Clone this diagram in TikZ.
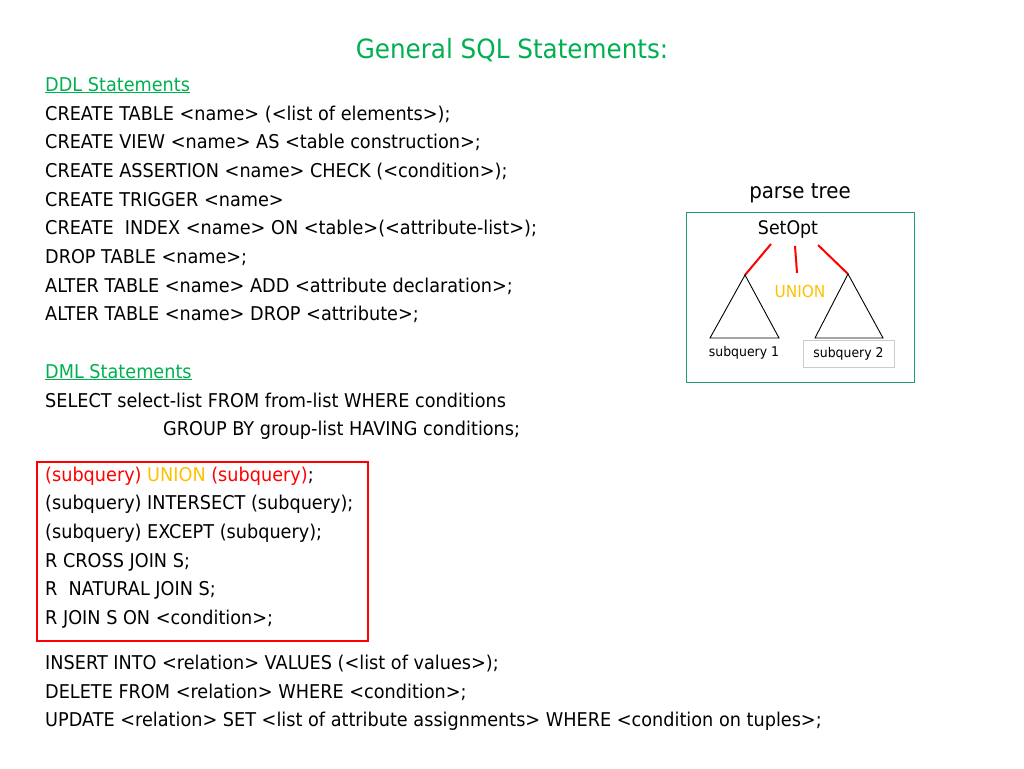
\documentclass[tikz,border=0pt]{standalone}
\usepackage{fontspec}
\setmainfont{DejaVu Sans}[FakeStretch=0.93]
\usetikzlibrary{positioning}
\definecolor{titlegreen}{RGB}{0,176,80}
\definecolor{unionorange}{RGB}{255,192,0}
\definecolor{treeframe}{RGB}{30,160,110}
\begin{document}
\begin{tikzpicture}[x=1pt, y=-1pt,
  every node/.style = {inner sep=0pt, anchor=base west},
  stmt/.style = {font=\fontsize{19}{22}\selectfont},
  heading/.style = {stmt, text=titlegreen},
  small/.style = {font=\fontsize{13.4}{15}\selectfont, anchor=center},
  branch/.style = {draw=red, line width=2pt}]
  \useasboundingbox (0,0) rectangle (1024,768);
  \node[font=\fontsize{26.5}{30}\selectfont, text=titlegreen, anchor=base] (title) at (512,59) {General SQL Statements:};
  % DDL
  \node[heading] (ddl) at (45,91) {\underline{DDL Statements}};
  \node[stmt] (ddl1) at (45,120) {CREATE TABLE <name> (<list of elements>);};
  \node[stmt] (ddl2) at (45,148.5) {CREATE VIEW <name> AS <table construction>;};
  \node[stmt] (ddl3) at (45,177) {CREATE ASSERTION <name> CHECK (<condition>);};
  \node[stmt] (ddl4) at (45,206) {CREATE TRIGGER <name>};
  \node[stmt] (ddl5) at (45,234.5) {CREATE\ \ INDEX <name> ON <table>(<attribute-list>);};
  \node[stmt] (ddl6) at (45,263) {DROP TABLE <name>;};
  \node[stmt] (ddl7) at (45,292) {ALTER TABLE <name> ADD <attribute declaration>;};
  \node[stmt] (ddl8) at (45,320.5) {ALTER TABLE <name> DROP <attribute>;};
  % DML
  \node[heading] (dml) at (45,378) {\underline{DML Statements}};
  \node[stmt] (dml1) at (45,407) {SELECT select-list FROM from-list WHERE conditions};
  \node[stmt] (dml2) at (163,435.5) {GROUP BY group-list HAVING conditions;};
  \node[stmt] (set1) at (45,481) {\textcolor{red}{(subquery)} \textcolor{unionorange}{UNION} \textcolor{red}{(subquery)};};
  \node[stmt] (set2) at (45,509) {(subquery) INTERSECT (subquery);};
  \node[stmt] (set3) at (45,538) {(subquery) EXCEPT (subquery);};
  \node[stmt] (set4) at (45,567) {R CROSS JOIN S;};
  \node[stmt] (set5) at (45,595) {R\ \ NATURAL JOIN S;};
  \node[stmt] (set6) at (45,624) {R JOIN S ON <condition>;};
  \draw[red, line width=1.8pt] (37,462) rectangle (368,641);
  \node[stmt] (mod1) at (45,669) {INSERT INTO <relation> VALUES (<list of values>);};
  \node[stmt] (mod2) at (45,698) {DELETE FROM <relation> WHERE <condition>;};
  \node[stmt] (mod3) at (45,726.5) {UPDATE <relation> SET <list of attribute assignments> WHERE <condition on tuples>;};
  % parse tree
  \node[font=\fontsize{21.3}{24}\selectfont, anchor=center] (ptlabel) at (800,193) {parse tree};
  \draw[treeframe, line width=1pt] (686,212) rectangle (914,382);
  \node[font=\fontsize{18.7}{22}\selectfont, anchor=center] (setopt) at (788,230) {SetOpt};
  \node[font=\fontsize{16.5}{19}\selectfont, anchor=center, text=unionorange] (union) at (800,291) {UNION};
  \coordinate (lapex) at (745,275);
  \coordinate (rapex) at (848,274);
  \draw[branch] (771,244) -- (lapex);
  \draw[branch] (795,246) -- (797,273);
  \draw[branch] (818,245) -- (rapex);
  \draw[line width=0.9pt] (lapex) -- (710,338) -- (779,338) -- cycle;
  \draw[line width=0.9pt] (rapex) -- (815,338) -- (883,338) -- cycle;
  \node[small] (sub1) at (744,353) {subquery 1};
  \node[small, draw=black!20, line width=0.8pt, minimum width=91pt, minimum height=27pt] (sub2) at (848.5,353.5) {subquery 2};
\end{tikzpicture}
\end{document}
